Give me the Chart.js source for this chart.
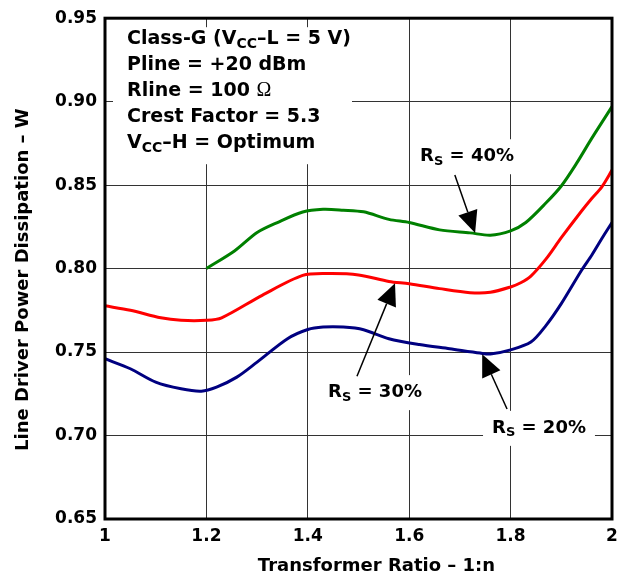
<!DOCTYPE html>
<html>
<head>
<meta charset="utf-8">
<script src="https://cdn.jsdelivr.net/npm/chart.js@4/dist/chart.umd.min.js"></script>
<style>
  html, body { margin: 0; padding: 0; background: #fff; }
  canvas { display: block; }
</style>
</head>
<body>
<canvas id="chart" width="618" height="579"></canvas>
<script>
// Dati (rapporto trasformatore 1:n -> potenza dissipata in W)
const ratio20 = [1.00, 1.05, 1.10, 1.15, 1.19, 1.22, 1.26, 1.30, 1.36, 1.40, 1.43, 1.47, 1.51, 1.56, 1.62, 1.68, 1.74, 1.76, 1.80, 1.84, 1.87, 1.90, 1.94, 1.96, 1.98, 2.00];
const power20 = [0.746, 0.740, 0.732, 0.728, 0.7266, 0.729, 0.735, 0.744, 0.758, 0.7635, 0.765, 0.765, 0.7634, 0.758, 0.7545, 0.752, 0.7494, 0.7488, 0.7513, 0.756, 0.766, 0.779, 0.799, 0.808, 0.818, 0.8276];

const ratio30 = [1.00, 1.05, 1.11, 1.15, 1.20, 1.23, 1.31, 1.39, 1.44, 1.50, 1.56, 1.60, 1.66, 1.72, 1.76, 1.80, 1.82, 1.84, 1.87, 1.90, 1.94, 1.96, 1.98, 2.00];
const power30 = [0.7777, 0.775, 0.7705, 0.769, 0.769, 0.7705, 0.784, 0.7959, 0.797, 0.7962, 0.7923, 0.7909, 0.788, 0.7856, 0.7858, 0.789, 0.7915, 0.7955, 0.8058, 0.8185, 0.8345, 0.842, 0.849, 0.859];

const ratio40 = [1.20, 1.256, 1.30, 1.34, 1.39, 1.43, 1.47, 1.51, 1.56, 1.60, 1.66, 1.72, 1.76, 1.80, 1.83, 1.87, 1.90, 1.93, 1.96, 2.00];
const power40 = [0.800, 0.8107, 0.8216, 0.8276, 0.8339, 0.8355, 0.835, 0.834, 0.8295, 0.8276, 0.8232, 0.8214, 0.820, 0.8226, 0.8276, 0.8394, 0.8495, 0.863, 0.878, 0.897];

const xTicks = [1, 1.2, 1.4, 1.6, 1.8, 2];
const yTicks = [0.65, 0.70, 0.75, 0.80, 0.85, 0.90, 0.95];

const xTitle = "Transformer Ratio \u2013 1:n";
const yTitle = "Line Driver Power Dissipation \u2013 W";

const FONT = "'DejaVu Sans', 'Liberation Sans', Arial, sans-serif";

// Etichette con freccia (coordinate nei valori del grafico)
const curveLabels = [
  { main: "R", sub: "S", rest: " = 40%", at: [1.714, 0.8673], from: [1.690, 0.856], tip: [1.730, 0.8213] },
  { main: "R", sub: "S", rest: " = 30%", at: [1.5325, 0.726], from: [1.497, 0.7355], tip: [1.572, 0.7912] },
  { main: "R", sub: "S", rest: " = 20%", at: [1.856, 0.7046], from: [1.793, 0.7159], tip: [1.744, 0.7487] },
];

// Blocco di testo in alto a sinistra
const infoLines = [
  [{ t: "Class-G (V" }, { t: "CC", sub: true }, { t: "\u2013L = 5 V)" }],
  [{ t: "Pline = +20 dBm" }],
  [{ t: "Rline = 100 " }, { t: "\u03A9", serif: true }],
  [{ t: "Crest Factor = 5.3" }],
  [{ t: "V" }, { t: "CC", sub: true }, { t: "\u2013H = Optimum" }],
];

function toPoints(xs, ys) {
  return xs.map((x, i) => ({ x: x, y: ys[i] }));
}

function partFont(p, size) {
  if (p.serif) return (size + 1) + "px 'Liberation Serif', 'DejaVu Serif', serif";
  if (p.sub) return "bold " + Math.round(size * 0.74) + "px " + FONT;
  return "bold " + size + "px " + FONT;
}

function measureParts(ctx, parts, size) {
  let w = 0;
  parts.forEach((p) => {
    ctx.font = partFont(p, size);
    w += ctx.measureText(p.t).width;
  });
  return w;
}

function drawParts(ctx, parts, x, y, size) {
  ctx.textAlign = "left";
  ctx.textBaseline = "middle";
  ctx.fillStyle = "#000";
  let cx = x;
  parts.forEach((p) => {
    ctx.font = partFont(p, size);
    ctx.fillText(p.t, cx, p.sub ? y + 5 : y);
    cx += ctx.measureText(p.t).width;
  });
}

function labelParts(l) {
  return [{ t: l.main }, { t: l.sub, sub: true }, { t: l.rest }];
}

function drawArrow(ctx, x1, y1, x2, y2) {
  const ang = Math.atan2(y2 - y1, x2 - x1);
  const len = 22;
  const half = 10;
  const bx = x2 - Math.cos(ang) * len;
  const by = y2 - Math.sin(ang) * len;
  ctx.strokeStyle = "#000";
  ctx.lineWidth = 1.5;
  ctx.beginPath();
  ctx.moveTo(x1, y1);
  ctx.lineTo(bx, by);
  ctx.stroke();
  ctx.fillStyle = "#000";
  ctx.beginPath();
  ctx.moveTo(x2, y2);
  ctx.lineTo(bx - Math.sin(ang) * half, by + Math.cos(ang) * half);
  ctx.lineTo(bx + Math.sin(ang) * half, by - Math.cos(ang) * half);
  ctx.closePath();
  ctx.fill();
}

const annotationPlugin = {
  id: "annotazioni",
  // riquadri bianchi sopra la griglia
  beforeDatasetsDraw(chart) {
    const { ctx, chartArea, scales } = chart;
    ctx.save();
    ctx.fillStyle = "#fff";
    ctx.fillRect(chartArea.left + 8, chartArea.top + 9, 239, 137);
    curveLabels.forEach((l) => {
      const w = measureParts(ctx, labelParts(l), 18);
      const cx = scales.x.getPixelForValue(l.at[0]);
      const cy = scales.y.getPixelForValue(l.at[1]);
      ctx.fillStyle = "#fff";
      ctx.fillRect(cx - w / 2 - 9, cy - 17, w + 18, 35);
    });
    ctx.restore();
  },
  afterDatasetsDraw(chart) {
    const { ctx, chartArea, scales } = chart;
    ctx.save();
    infoLines.forEach((parts, i) => {
      drawParts(ctx, parts, chartArea.left + 22, chartArea.top + 21 + i * 26, 19);
    });
    curveLabels.forEach((l) => {
      const parts = labelParts(l);
      const w = measureParts(ctx, parts, 18);
      const cx = scales.x.getPixelForValue(l.at[0]);
      const cy = scales.y.getPixelForValue(l.at[1]);
      drawParts(ctx, parts, cx - w / 2, cy, 18);
      drawArrow(
        ctx,
        scales.x.getPixelForValue(l.from[0]),
        scales.y.getPixelForValue(l.from[1]),
        scales.x.getPixelForValue(l.tip[0]),
        scales.y.getPixelForValue(l.tip[1])
      );
    });
    ctx.restore();
  },
  // bordo spesso e titoli degli assi
  afterDraw(chart) {
    const { ctx, chartArea } = chart;
    ctx.save();
    ctx.strokeStyle = "#000";
    ctx.lineWidth = 3;
    ctx.strokeRect(chartArea.left, chartArea.top, chartArea.right - chartArea.left, chartArea.bottom - chartArea.top);

    ctx.fillStyle = "#000";
    ctx.font = "bold 18px " + FONT;
    ctx.textAlign = "center";
    ctx.textBaseline = "middle";
    ctx.fillText(xTitle, (chartArea.left + chartArea.right) / 2 + 18, chartArea.bottom + 47);

    ctx.translate(23, (chartArea.top + chartArea.bottom) / 2 + 11);
    ctx.rotate(-Math.PI / 2);
    ctx.fillText(yTitle, 0, 0);
    ctx.restore();
  },
};

function makeDataset(label, xs, ys, color) {
  return {
    label: label,
    data: toPoints(xs, ys),
    borderColor: color,
    borderWidth: 3,
    pointRadius: 0,
    fill: false,
    tension: 0.3,
  };
}

const ctx = document.getElementById("chart").getContext("2d");
new Chart(ctx, {
  type: "line",
  data: {
    datasets: [
      makeDataset("RS = 40%", ratio40, power40, "#008000"),
      makeDataset("RS = 30%", ratio30, power30, "#ff0000"),
      makeDataset("RS = 20%", ratio20, power20, "#000080"),
    ],
  },
  options: {
    responsive: false,
    animation: false,
    devicePixelRatio: 1,
    layout: { padding: { top: 14, right: 6, left: 0, bottom: 0 } },
    plugins: {
      legend: { display: false },
      tooltip: { enabled: false },
    },
    scales: {
      x: {
        type: "linear",
        min: 1,
        max: 2,
        afterBuildTicks: (s) => {
          s.ticks = xTicks.map((v) => ({ value: v }));
        },
        afterFit: (s) => {
          s.height = 60;
          s.paddingLeft = 0;
          s.paddingRight = 0;
        },
        ticks: {
          callback: (v) => String(+v.toFixed(1)),
          font: { family: FONT, size: 17, weight: "bold" },
          color: "#000",
          padding: 7,
          maxRotation: 0,
        },
        grid: { color: "#333", lineWidth: 1, drawTicks: false },
        border: { display: false },
      },
      y: {
        min: 0.65,
        max: 0.95,
        afterBuildTicks: (s) => {
          s.ticks = yTicks.map((v) => ({ value: v }));
        },
        afterFit: (s) => {
          s.width = 105;
        },
        ticks: {
          callback: (v) => v.toFixed(2),
          font: { family: FONT, size: 17, weight: "bold" },
          color: "#000",
          padding: 8,
        },
        grid: { color: "#333", lineWidth: 1, drawTicks: false },
        border: { display: false },
      },
    },
  },
  plugins: [annotationPlugin],
});
</script>
</body>
</html>
